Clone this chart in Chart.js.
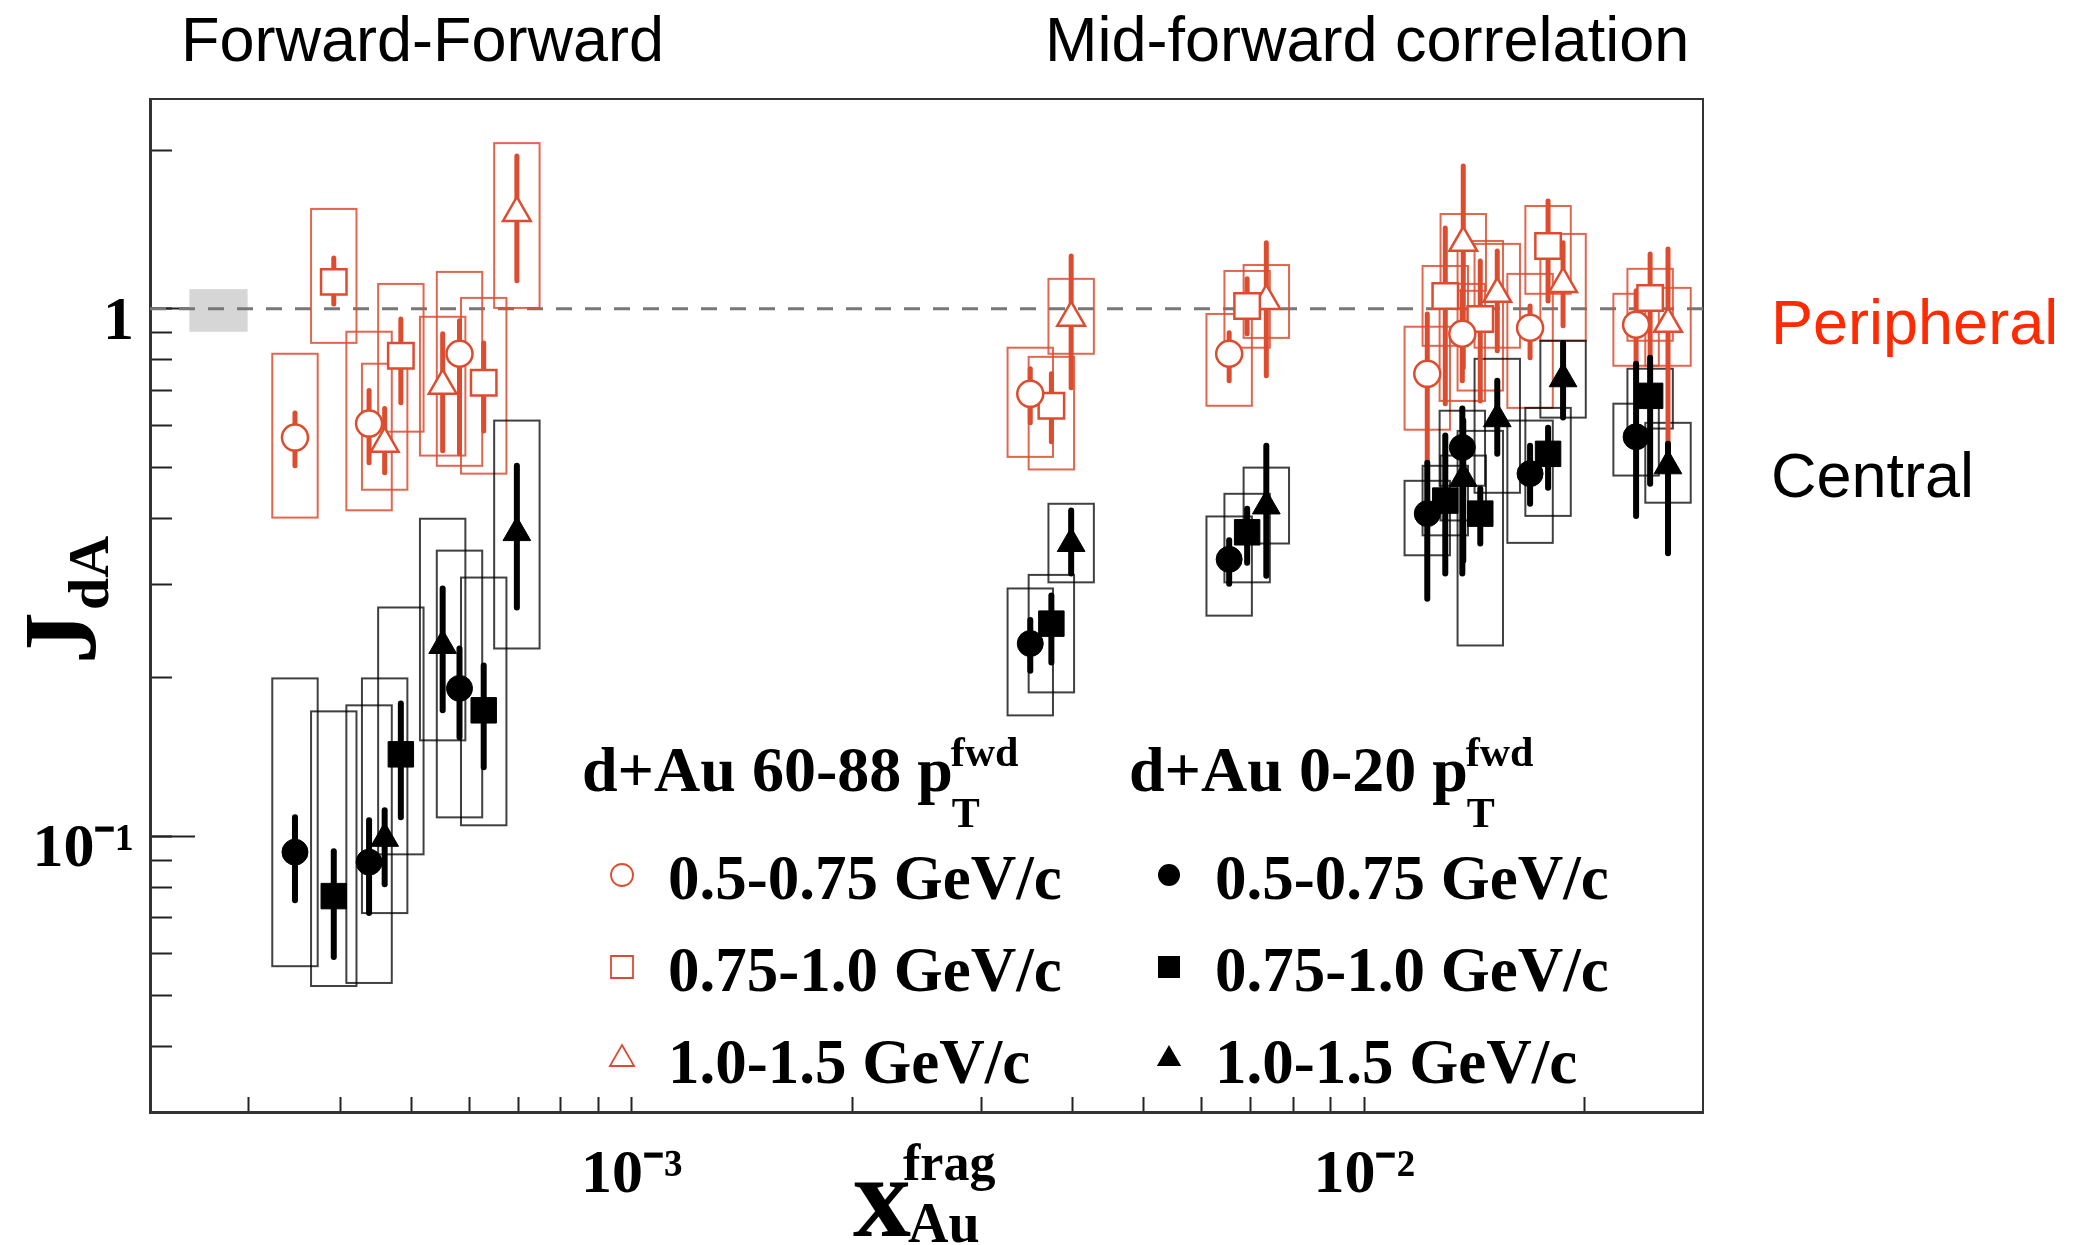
<!DOCTYPE html>
<html>
<head>
<meta charset="utf-8">
<title>J_dA vs x_Au frag</title>
<script src="https://cdn.jsdelivr.net/npm/chart.js@4.4.1/dist/chart.umd.min.js"></script>
<style>
  html, body { margin: 0; padding: 0; background: #fff; }
  canvas { display: block; }
</style>
</head>
<body>
<canvas id="myChart" width="2075" height="1245"></canvas>
<script>
// x_Au^frag of the nine groups (3 forward-forward, 6 mid-forward), one list per forward pT bin
let xCircle = [3.47e-4, 4.38e-4, 5.82e-4, 3.50e-3, 6.54e-3, 1.219e-2, 1.361e-2, 1.684e-2, 2.350e-2];
let xSquare = [3.92e-4, 4.84e-4, 6.28e-4, 3.74e-3, 6.92e-3, 1.290e-2, 1.440e-2, 1.782e-2, 2.456e-2];
let xTriangle = [4.60e-4, 5.52e-4, 6.97e-4, 3.98e-3, 7.35e-3, 1.365e-2, 1.519e-2, 1.868e-2, 2.598e-2];

// d+Au 60-88% (peripheral), open markers
let periCircle = [0.570, 0.606, 0.822, 0.690, 0.822, 0.753, 0.897, 0.921, 0.933];
let periCircleStat = [[0.504, 0.635], [0.511, 0.700], [0.531, 0.949], [0.608, 0.770], [0.731, 0.901], [0.516, 0.978], [0.731, 1.082], [0.808, 1.013], [0.780, 1.082]];
let periCircleSys = [[0.402, 0.822], [0.415, 0.905], [0.504, 1.175], [0.524, 0.844], [0.655, 0.978], [0.590, 0.925], [0.669, 1.115], [0.649, 1.165], [0.780, 1.068]];

let periSquare = [1.125, 0.815, 0.724, 0.655, 1.013, 1.058, 0.957, 1.316, 1.049];
let periSquareStat = [[1.022, 1.249], [0.664, 0.957], [0.587, 0.862], [0.560, 0.753], [0.897, 1.140], [0.661, 1.423], [0.669, 1.233], [1.035, 1.601], [0.815, 1.271]];
let periSquareSys = [[0.862, 1.547], [0.585, 1.115], [0.487, 1.049], [0.496, 0.811], [0.844, 1.180], [0.851, 1.206], [0.700, 1.345], [1.068, 1.567], [0.870, 1.191]];

let periTriangle = [0.555, 0.715, 1.520, 0.962, 1.035, 1.334, 1.068, 1.115, 0.937];
let periTriangleStat = [[0.489, 0.647], [0.538, 0.897], [1.130, 1.949], [0.709, 1.260], [0.747, 1.334], [0.773, 1.866], [0.833, 1.288], [0.929, 1.334], [0.555, 1.299]];
let periTriangleSys = [[0.454, 0.787], [0.527, 0.966], [1.004, 2.062], [0.822, 1.140], [0.881, 1.211], [1.082, 1.513], [0.844, 1.328], [0.870, 1.387], [0.780, 1.096]];

// d+Au 0-20% (central), filled markers
let centCircle = [0.0933, 0.0893, 0.1907, 0.232, 0.335, 0.409, 0.546, 0.487, 0.572];
let centCircleStat = [[0.0756, 0.1086], [0.0715, 0.1072], [0.154, 0.227], [0.206, 0.257], [0.301, 0.364], [0.282, 0.511], [0.315, 0.647], [0.427, 0.550], [0.405, 0.787]];
let centCircleSys = [[0.0567, 0.1992], [0.0527, 0.1771], [0.1086, 0.348], [0.1695, 0.295], [0.262, 0.404], [0.341, 0.472], [0.462, 0.641], [0.360, 0.614], [0.483, 0.661]];

let centSquare = [0.0770, 0.1430, 0.1733, 0.253, 0.377, 0.433, 0.409, 0.531, 0.684];
let centSquareStat = [[0.0590, 0.0937], [0.1086, 0.1786], [0.1351, 0.2108], [0.2136, 0.286], [0.330, 0.418], [0.315, 0.575], [0.359, 0.456], [0.458, 0.595], [0.466, 0.808]];
let centSquareSys = [[0.0520, 0.1725], [0.0924, 0.2715], [0.1049, 0.3094], [0.1874, 0.313], [0.303, 0.446], [0.372, 0.504], [0.230, 0.587], [0.405, 0.649], [0.593, 0.770]];

let centTriangle = [0.0991, 0.230, 0.3765, 0.359, 0.423, 0.477, 0.619, 0.737, 0.504];
let centTriangleStat = [[0.0811, 0.1120], [0.1733, 0.2949], [0.2715, 0.5043], [0.315, 0.4145], [0.312, 0.550], [0.333, 0.614], [0.531, 0.731], [0.622, 0.862], [0.344, 0.555]];
let centTriangleSys = [[0.0715, 0.1992], [0.152, 0.400], [0.227, 0.614], [0.303, 0.427], [0.359, 0.500], [0.397, 0.527], [0.448, 0.804], [0.622, 0.870], [0.429, 0.608]];

// global normalisation uncertainty (grey box at unity)
let normBoxX = [2.49e-4, 2.99e-4];
let normBoxY = [0.905, 1.09];
let unity = 1;

// axes
let xMin = 2.2e-4, xMax = 2.9e-2;
let yMin = 0.03, yMax = 2.5;
let xTickValues = [3e-4, 4e-4, 5e-4, 6e-4, 7e-4, 8e-4, 9e-4, 1e-3, 2e-3, 3e-3, 4e-3, 5e-3, 6e-3, 7e-3, 8e-3, 9e-3, 1e-2, 2e-2];
let xTickLabels = ['', '', '', '', '', '', '', '10\u207B\u00B3', '', '', '', '', '', '', '', '', '10\u207B\u00B2', ''];
let yTickValues = [0.04, 0.05, 0.06, 0.07, 0.08, 0.09, 0.1, 0.2, 0.3, 0.4, 0.5, 0.6, 0.7, 0.8, 0.9, 1, 2];
let yTickLabels = ['', '', '', '', '', '', '10\u207B\u00B9', '', '', '', '', '', '', '', '', '1', ''];
let yMajorTicks = [0.1, 1];

let legendHeads = ['d+Au 60-88 p', 'd+Au 0-20 p'];
let binLabels = ['0.5-0.75 GeV/c', '0.75-1.0 GeV/c', '1.0-1.5 GeV/c'];
let regionTitles = ['Forward-Forward', 'Mid-forward correlation'];
let sideLabels = ['Peripheral', 'Central'];

let red = 'rgb(222,76,48)';
let black = '#000';
let boxSpread = Math.pow(10, 0.031); // half width of the systematic boxes, in decades
let serif = '"Liberation Serif", "Times New Roman", serif';
let sans = '"Liberation Sans", Arial, sans-serif';

function makeSet(label, xs, ys, stat, sys, style, radius, central) {
  return {
    label: label,
    data: xs.map((x, i) => ({ x: x, y: ys[i] })),
    stat: stat,
    sys: sys,
    central: central,
    pointStyle: style,
    pointRadius: radius,
    pointHoverRadius: radius,
    pointBackgroundColor: central ? black : '#fff',
    pointBorderColor: central ? black : red,
    pointBorderWidth: central ? 1 : 2.5,
    showLine: false
  };
}

// black first so it is painted on top
let datasets = [
  makeSet('0-20 0.5-0.75', xCircle, centCircle, centCircleStat, centCircleSys, 'circle', 13, true),
  makeSet('0-20 0.75-1.0', xSquare, centSquare, centSquareStat, centSquareSys, 'rect', 18, true),
  makeSet('0-20 1.0-1.5', xTriangle, centTriangle, centTriangleStat, centTriangleSys, 'triangle', 16, true),
  makeSet('60-88 0.5-0.75', xCircle, periCircle, periCircleStat, periCircleSys, 'circle', 13, false),
  makeSet('60-88 0.75-1.0', xSquare, periSquare, periSquareStat, periSquareSys, 'rect', 18, false),
  makeSet('60-88 1.0-1.5', xTriangle, periTriangle, periTriangleStat, periTriangleSys, 'triangle', 16, false)
];

// boxes (systematic) and bars (statistical) behind the markers
let errorBoxes = {
  id: 'errorBoxes',
  beforeDatasetsDraw(chart) {
    let ctx = chart.ctx;
    let a = chart.chartArea;
    let xs = chart.scales.x, ys = chart.scales.y;
    ctx.save();
    ctx.beginPath();
    ctx.rect(a.left, a.top, a.right - a.left, a.bottom - a.top);
    ctx.clip();

    ctx.fillStyle = '#d6d6d6';
    let bx0 = xs.getPixelForValue(normBoxX[0]), bx1 = xs.getPixelForValue(normBoxX[1]);
    let by0 = ys.getPixelForValue(normBoxY[1]), by1 = ys.getPixelForValue(normBoxY[0]);
    ctx.fillRect(bx0, by0, bx1 - bx0, by1 - by0);

    ctx.strokeStyle = '#777';
    ctx.lineWidth = 3;
    ctx.setLineDash([16, 13]);
    let yOne = ys.getPixelForValue(unity);
    ctx.beginPath();
    ctx.moveTo(a.left, yOne);
    ctx.lineTo(a.right, yOne);
    ctx.stroke();
    ctx.setLineDash([]);

    let sets = chart.data.datasets.slice().reverse();
    sets.forEach(ds => {
      ctx.strokeStyle = ds.central ? 'rgba(0,0,0,0.75)' : 'rgba(222,76,48,0.85)';
      ctx.lineWidth = 2;
      ds.data.forEach((p, i) => {
        let l = xs.getPixelForValue(p.x / boxSpread);
        let r = xs.getPixelForValue(p.x * boxSpread);
        let t = ys.getPixelForValue(ds.sys[i][1]);
        let b = ys.getPixelForValue(ds.sys[i][0]);
        ctx.strokeRect(l, t, r - l, b - t);
      });
    });
    sets.forEach(ds => {
      ctx.strokeStyle = ds.central ? black : red;
      ctx.lineWidth = ds.central ? 6 : 5;
      ctx.lineCap = 'round';
      ds.data.forEach((p, i) => {
        let px = xs.getPixelForValue(p.x);
        ctx.beginPath();
        ctx.moveTo(px, ys.getPixelForValue(ds.stat[i][0]));
        ctx.lineTo(px, ys.getPixelForValue(ds.stat[i][1]));
        ctx.stroke();
      });
    });
    ctx.restore();
  }
};

function marker(ctx, style, x, y, r) {
  ctx.beginPath();
  if (style === 'circle') {
    ctx.arc(x, y, r, 0, Math.PI * 2);
  } else if (style === 'rect') {
    ctx.rect(x - r, y - r, 2 * r, 2 * r);
  } else {
    ctx.moveTo(x, y - r);
    ctx.lineTo(x + r * 0.866, y + r * 0.5);
    ctx.lineTo(x - r * 0.866, y + r * 0.5);
    ctx.closePath();
  }
}

// titles, axis titles and the two-column legend
let textLayer = {
  id: 'textLayer',
  afterDraw(chart) {
    let ctx = chart.ctx;
    let a = chart.chartArea;
    ctx.save();
    ctx.textAlign = 'left';
    ctx.textBaseline = 'alphabetic';

    ctx.fillStyle = '#000';
    ctx.font = '63px ' + sans;
    ctx.fillText(regionTitles[0], 181, 61);
    ctx.fillText(regionTitles[1], 1045, 61);
    ctx.fillStyle = '#ff2a00';
    ctx.fillText(sideLabels[0], a.right + 68, 344);
    ctx.fillStyle = '#000';
    ctx.fillText(sideLabels[1], a.right + 68, 497);

    // y title J_dA
    ctx.save();
    ctx.translate(95, 664);
    ctx.rotate(-Math.PI / 2);
    ctx.font = 'bold 104px ' + serif;
    ctx.fillText('J', 0, 0);
    let jw = ctx.measureText('J').width;
    ctx.font = 'bold 58px ' + serif;
    ctx.fillText('dA', jw + 2, 13);
    ctx.restore();

    // x title x_Au^frag
    ctx.font = 'bold 116px ' + serif;
    ctx.fillText('x', 853, 1236);
    ctx.font = 'bold 52px ' + serif;
    ctx.fillText('frag', 903, 1180);
    ctx.font = 'bold 56px ' + serif;
    ctx.fillText('Au', 908, 1242);

    // legend
    let cols = [
      { x: 582, head: legendHeads[0], sets: chart.data.datasets.filter(d => !d.central) },
      { x: 1129, head: legendHeads[1], sets: chart.data.datasets.filter(d => d.central) }
    ];
    let rowBase = [899, 991, 1083];
    cols.forEach(c => {
      ctx.fillStyle = '#000';
      ctx.font = 'bold 64px ' + serif;
      ctx.fillText(c.head, c.x, 791);
      let hw = ctx.measureText(c.head).width;
      ctx.font = 'bold 42px ' + serif;
      ctx.fillText('fwd', c.x + hw - 2, 766);
      ctx.fillText('T', c.x + hw - 1, 827);

      c.sets.forEach((ds, i) => {
        let mx = c.x + 40, my = rowBase[i] - 24;
        let r = ds.pointStyle === 'triangle' ? 14 : 11;
        marker(ctx, ds.pointStyle, mx, my, r);
        if (ds.central) {
          ctx.fillStyle = black;
          ctx.fill();
        } else {
          ctx.fillStyle = '#fff';
          ctx.fill();
          ctx.strokeStyle = red;
          ctx.lineWidth = 1.8;
          ctx.stroke();
        }
        ctx.fillStyle = '#000';
        ctx.font = 'bold 63px ' + serif;
        ctx.fillText(binLabels[i], c.x + 86, rowBase[i]);
      });
    });
    ctx.restore();
  }
};

let tickFont = { family: serif, weight: 'bold', size: 62 };

let chart = new Chart(document.getElementById('myChart').getContext('2d'), {
  type: 'scatter',
  data: { datasets: datasets },
  options: {
    responsive: false,
    devicePixelRatio: 1,
    animation: false,
    layout: { padding: 0 },
    plugins: { legend: { display: false }, tooltip: { enabled: false } },
    scales: {
      x: {
        type: 'logarithmic', position: 'bottom', min: xMin, max: xMax,
        afterBuildTicks: s => { s.ticks = xTickValues.map(v => ({ value: v })); },
        afterFit: s => { s.height = 133; },
        ticks: {
          autoSkip: false, maxRotation: 0, minRotation: 0, padding: 42,
          font: tickFont, color: '#000',
          callback: v => xTickLabels[xTickValues.indexOf(v)]
        },
        grid: { display: true, drawOnChartArea: false, drawTicks: true, tickLength: -15, tickWidth: 2, tickColor: '#222' },
        border: { display: true, width: 3, color: '#333' }
      },
      xTop: {
        type: 'linear', position: 'top', min: 0, max: 1,
        afterFit: s => { s.height = 99; },
        ticks: { display: false },
        grid: { display: false },
        border: { display: true, width: 2, color: '#333' }
      },
      y: {
        type: 'logarithmic', position: 'left', weight: 1, min: yMin, max: yMax,
        afterBuildTicks: s => { s.ticks = yTickValues.map(v => ({ value: v })); },
        afterFit: s => { s.width = 150; },
        ticks: {
          autoSkip: false, padding: 38, labelOffset: 14,
          font: tickFont, color: '#000',
          callback: v => yTickLabels[yTickValues.indexOf(v)]
        },
        grid: { display: true, drawOnChartArea: false, drawTicks: true, tickLength: -22, tickWidth: 2, tickColor: '#222' },
        border: { display: true, width: 3, color: '#333' }
      },
      yMaj: {
        type: 'logarithmic', position: 'left', weight: 0, min: yMin, max: yMax,
        afterBuildTicks: s => { s.ticks = yMajorTicks.map(v => ({ value: v })); },
        afterFit: s => { s.width = 0; },
        ticks: { display: false },
        grid: { display: true, drawOnChartArea: false, drawTicks: true, tickLength: -45, tickWidth: 2, tickColor: '#222' },
        border: { display: false }
      },
      yRight: {
        type: 'linear', position: 'right', min: 0, max: 1,
        afterFit: s => { s.width = 372; },
        ticks: { display: false },
        grid: { display: false },
        border: { display: true, width: 2, color: '#333' }
      }
    }
  },
  plugins: [errorBoxes, textLayer]
});
</script>
</body>
</html>
